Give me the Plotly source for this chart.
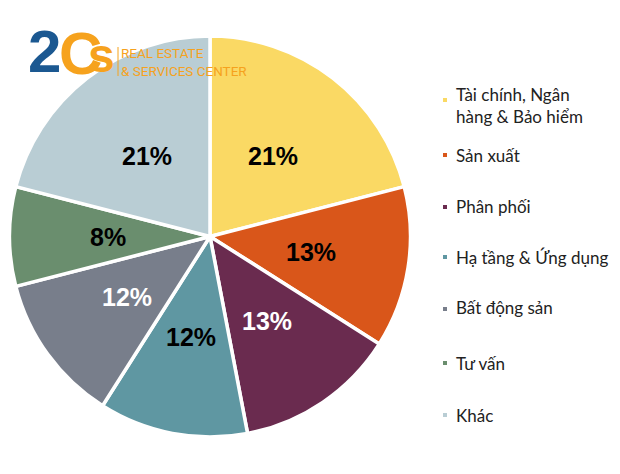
import math
import plotly.graph_objects as go

labels = ["Tài chính, Ngân<br>hàng & Bảo hiểm", "Sản xuất", "Phân phối",
          "Hạ tầng & Ứng dụng", "Bất động sản", "Tư vấn", "Khác"]
values = [21, 13, 13, 12, 12, 8, 21]
colors = ["#FAD964", "#D9561A", "#6A2B4F", "#5F97A2", "#787E8B", "#6A8E6E", "#B9CDD4"]
text_colors = ["black", "black", "white", "black", "white", "black", "black"]

W, H = 620, 474
OFF = 8  # page body margin offset


def px(x):
    return (x - OFF) / W


def py(y):
    return 1 - (y - OFF) / H


CX, CY, R = 210, 236.5, 200.5

fig = go.Figure(go.Pie(
    labels=labels, values=values, sort=False, direction="clockwise", rotation=0,
    marker=dict(colors=colors, line=dict(color="white", width=3.5)),
    textinfo="none", hoverinfo="label+percent", showlegend=False,
    domain=dict(x=[px(CX - R), px(CX + R)], y=[py(CY + R), py(CY - R)]),
))

# Percentage labels at half radius along each slice bisector
total = sum(values)
cum = 0
for v, tc in zip(values, text_colors):
    mid = (cum + v / 2) / total * 2 * math.pi
    cum += v
    lx = CX + 0.51 * R * math.sin(mid)
    ly = CY - 0.51 * R * math.cos(mid)
    fig.add_annotation(text=f"<b>{v}%</b>", xref="paper", yref="paper", x=px(lx), y=py(ly),
                       xanchor="center", yanchor="middle", showarrow=False,
                       font=dict(family="Liberation Sans, Arial", size=25, color=tc))

# Legend drawn as annotations + small squares
legend_y = [105, 156, 206, 257, 307, 363, 415]
marker_y = [100, 155, 207, 257, 309, 363, 415]
for lab, col, yy, my in zip(labels, colors, legend_y, marker_y):
    fig.add_shape(type="rect", xref="paper", yref="paper",
                  x0=px(443), x1=px(447), y0=py(my + 2), y1=py(my - 2),
                  fillcolor=col, line=dict(width=0))
    fig.add_annotation(text=lab, xref="paper", yref="paper", x=px(454), y=py(yy),
                       xanchor="left", yanchor="middle", align="left", showarrow=False,
                       font=dict(family="Lato, Noto Sans", size=17, color="#222222"))

# Logo
fig.add_annotation(text="<b>2</b>", xref="paper", yref="paper", x=px(26), y=py(52),
                   xanchor="left", yanchor="middle", showarrow=False,
                   font=dict(family="Liberation Sans, Arial", size=60, color="#1B5891"))
fig.add_annotation(text="<b>C</b>", xref="paper", yref="paper", x=px(57), y=py(53),
                   xanchor="left", yanchor="middle", showarrow=False,
                   font=dict(family="Liberation Sans, Arial", size=60, color="#F6A21D"))
fig.add_annotation(text="<b>s</b>", xref="paper", yref="paper", x=px(86), y=py(56),
                   xanchor="left", yanchor="middle", showarrow=False,
                   font=dict(family="Liberation Sans, Arial", size=48, color="#F6A21D"))
fig.add_shape(type="line", xref="paper", yref="paper", x0=px(118), x1=px(118),
              y0=py(76), y1=py(47), line=dict(color="#F6A21D", width=1))
fig.add_annotation(text="REAL ESTATE<br>& SERVICES CENTER", xref="paper", yref="paper",
                   x=px(119), y=py(62), xanchor="left", yanchor="middle", align="left",
                   showarrow=False,
                   font=dict(family="Roboto, Liberation Sans", size=13.5, color="#F6A21D"))

fig.update_layout(width=W, height=H, margin=dict(l=0, r=0, t=0, b=0),
                  paper_bgcolor="white", plot_bgcolor="white")
fig.write_html("out.html")
